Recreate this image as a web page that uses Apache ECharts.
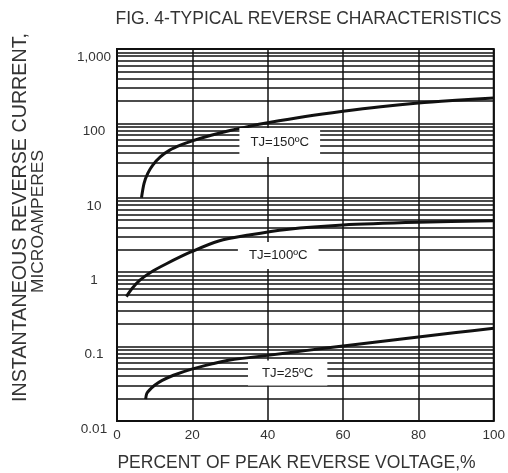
<!DOCTYPE html>
<html>
<head>
<meta charset="utf-8">
<script src="https://cdn.jsdelivr.net/npm/echarts@6/dist/echarts.min.js"></script>
<style>html,body{margin:0;padding:0;background:#fff;}#c{width:508px;height:473px;}</style>
</head>
<body>
<div id="c"></div>
<script>
// ---- data ----
const xTicks = [0, 20, 40, 60, 80, 100];
const yTickLabels = ['0.01', '0.1', '1', '10', '100', '1,000'];
const decades = [0.01, 0.1, 1, 10, 100];
const minorMultipliers = [2, 3, 4, 5, 6, 7, 8, 9];

const tj150 = [[6.5,10],[7.2,15.8],[8.2,21.4],[9.5,27.5],[11.5,35.5],[14,43.7],[17,51.3],[20,58.2],[25,69.2],[30,80.4],[35,91.2],[40,102],[50,124],[60,146],[70,168],[80,188],[90,204],[100,219]];
const tj100 = [[2.5,0.47],[4,0.603],[6,0.776],[9,1.0],[13,1.29],[19.6,1.87],[27,2.63],[35,3.16],[45,3.76],[60,4.31],[80,4.68],[100,4.9]];
const tj25 = [[7.6,0.0197],[7.9,0.0234],[8.6,0.026],[10,0.0302],[12,0.0351],[15,0.0412],[19.6,0.0495],[25,0.0582],[30,0.0661],[40,0.0762],[50,0.0883],[60,0.1019],[70,0.1172],[80,0.1346],[90,0.1542],[100,0.1762]];

const curveLabels = ['TJ=150ºC', 'TJ=100ºC', 'TJ=25ºC'];
const labelAnchors = [[43.2, 55.3], [42.8, 1.68], [45.3, 0.0442]];

const FONT = "'Liberation Sans', Arial, sans-serif";
const minorValues = [];
decades.forEach(d => minorMultipliers.forEach(m => minorValues.push(+(d * m).toPrecision(6))));

const chart = echarts.init(document.getElementById('c'), null, {renderer: 'canvas'});
const curveStyle = {color: '#111', width: 3};
const labelPads = [[8, 11], [7, 11], [6, 14]];
const gridLine = {color: '#111', width: 1.5};

chart.setOption({
  animation: false,
  backgroundColor: '#fff',
  grid: {left: 117, right: 9, top: 49, bottom: 52, show: true, borderColor: '#111', borderWidth: 2, backgroundColor: '#fff'},
  xAxis: {
    type: 'value', min: 0, max: 100, interval: 20,
    axisLine: {show: false}, axisTick: {show: false},
    splitLine: {show: true, lineStyle: gridLine},
    axisLabel: {color: '#333', fontSize: 13.5, fontFamily: FONT, margin: 7,
      formatter: v => xTicks.indexOf(v) >= 0 ? String(v) : ''}
  },
  yAxis: {
    type: 'log', logBase: 10, min: 0.01, max: 1000,
    axisLine: {show: false}, axisTick: {show: false},
    splitLine: {show: true, lineStyle: gridLine},
    axisLabel: {color: '#333', fontSize: 13.5, fontFamily: FONT, margin: 23, align: 'center',
      verticalAlign: 'top', padding: [1, 0, 0, 0],
      formatter: v => yTickLabels[Math.round(Math.log10(v)) + 2] || ''}
  },
  series: [
    {
      type: 'line', data: [], z: 1, silent: true,
      markLine: {
        silent: true, symbol: ['none', 'none'], label: {show: false},
        lineStyle: {color: '#111', width: 1.5, type: 'solid'},
        emphasis: {disabled: true},
        data: minorValues.map(v => ({yAxis: v}))
      }
    },
    {type: 'line', name: curveLabels[0], data: tj150, showSymbol: false, smooth: 0.3, lineStyle: curveStyle, z: 3},
    {type: 'line', name: curveLabels[1], data: tj100, showSymbol: false, smooth: 0.3, lineStyle: curveStyle, z: 3},
    {type: 'line', name: curveLabels[2], data: tj25, showSymbol: false, smooth: 0.3, lineStyle: curveStyle, z: 3},
    {
      type: 'scatter', z: 10, symbolSize: 1, itemStyle: {color: '#fff', opacity: 1}, silent: true,
      emphasis: {disabled: true},
      data: labelAnchors.map((p, i) => ({
        value: p, name: curveLabels[i],
        label: {padding: labelPads[i]}
      })),
      label: {show: true, position: 'inside', formatter: '{b}', color: '#222', fontSize: 13.2,
        fontFamily: FONT, backgroundColor: '#fff', textBorderWidth: 0, opacity: 1}
    }
  ],
  graphic: [
    {type: 'text', x: 308.5, y: 19, style: {text: 'FIG. 4-TYPICAL REVERSE CHARACTERISTICS', fill: '#333', font: '17.5px ' + FONT, textAlign: 'center', textVerticalAlign: 'middle'}},
    {type: 'text', x: 296.5, y: 463, style: {text: 'PERCENT OF PEAK REVERSE VOLTAGE,%', fill: '#333', font: '17.5px ' + FONT, textAlign: 'center', textVerticalAlign: 'middle'}},
    {type: 'text', x: 20.5, y: 217.5, rotation: Math.PI / 2, style: {text: 'INSTANTANEOUS REVERSE CURRENT,', fill: '#333', font: '19.7px ' + FONT, textAlign: 'center', textVerticalAlign: 'middle'}},
    {type: 'text', x: 38.5, y: 221.5, rotation: Math.PI / 2, style: {text: 'MICROAMPERES', fill: '#333', font: '17.4px ' + FONT, textAlign: 'center', textVerticalAlign: 'middle'}}
  ]
});
</script>
</body>
</html>
